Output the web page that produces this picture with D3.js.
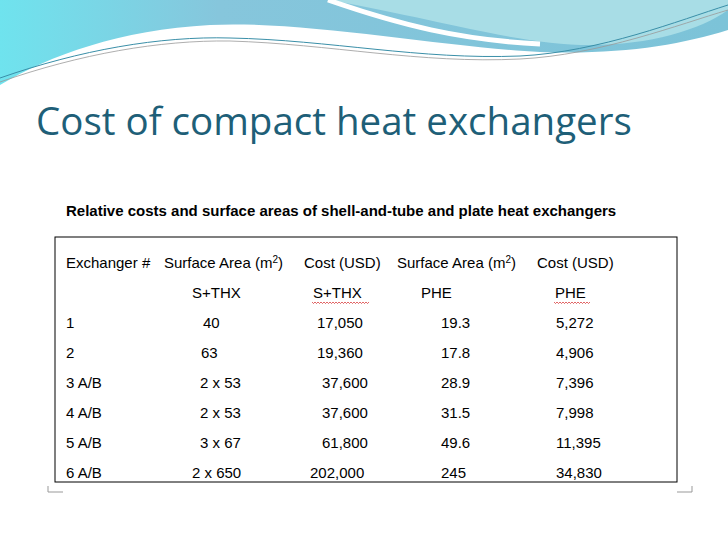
<!DOCTYPE html><html><head><meta charset="utf-8"><script src="https://cdn.jsdelivr.net/npm/d3@7"></script>
<style>body{margin:0;background:#fff}</style></head><body><svg id="s" width="728" height="546"></svg>
<script>
const headers=["Exchanger #","Surface Area (m²)","Cost (USD)","Surface Area (m²)","Cost (USD)"];
const subHeaders=["","S+THX","S+THX","PHE","PHE"];
const exchangers=["1","2","3 A/B","4 A/B","5 A/B","6 A/B"];
const areaSTHX=["40","63","2 x 53","2 x 53","3 x 67","2 x 650"];
const costSTHX=["17,050","19,360","37,600","37,600","61,800","202,000"];
const areaPHE=["19.3","17.8","28.9","31.5","49.6","245"];
const costPHE=["5,272","4,906","7,396","7,998","11,395","34,830"];
const svg=d3.select("#s");
const defs=svg.append("defs");
const g1=defs.append("linearGradient").attr("id","g1").attr("x1","0").attr("x2","1");
g1.append("stop").attr("offset","0").attr("stop-color","#6fe3ee");
g1.append("stop").attr("offset","0.3").attr("stop-color","#86c6dc");
g1.append("stop").attr("offset","1").attr("stop-color","#7cc3d8");
svg.append("path").attr("d","M0,0 L728,0 L728,30 C680,45 620,55 540,52 C450,48 300,20 210,25 C120,30 50,55 0,85 Z").attr("fill","url(#g1)");
svg.append("path").attr("d","M330,0 L728,0 L728,10 C700,30 650,45 590,45 C520,45 440,20 330,0 Z").attr("fill","#a8dde6");
svg.append("path").attr("d","M328,0 C400,25 460,40 540,44").attr("fill","none").attr("stroke","#fff").attr("stroke-width",5);
svg.append("path").attr("d","M0,78 C80,50 160,36 230,38 C330,40 420,60 520,56 C600,52 680,20 728,5").attr("fill","none").attr("stroke","#3a8fa8").attr("stroke-width",1);
svg.append("path").attr("d","M0,82 C80,54 160,40 230,41 C330,44 420,64 520,59 C600,55 680,24 728,10").attr("fill","none").attr("stroke","#999").attr("stroke-width",0.8);
svg.append("text").attr("x",36).attr("y",135).attr("font-family","Open Sans, sans-serif").attr("font-size",38.5).attr("fill","#1e5f78").text("Cost of compact heat exchangers");
svg.append("text").attr("x",66).attr("y",216).attr("font-family","Liberation Sans, Arial").attr("font-weight","bold").attr("font-size",15).attr("fill","#000").text("Relative costs and surface areas of shell-and-tube and plate heat exchangers");
svg.append("rect").attr("x",55).attr("y",237).attr("width",622).attr("height",245).attr("fill","none").attr("stroke","#000");
svg.append("path").attr("d","M48,492 h15 M48,492 v-6 M677,492 h15 M692,492 v-6").attr("stroke","#999").attr("fill","none");
const hx=[66,164,304,397,537];
const colX=[[66,66,66,66,66,66],[203,201,200,200,200,192],[317,317,322,322,322,310],[441,441,441,441,441,441],[556,556,556,556,556,556]];
const font="Liberation Sans Narrow, Liberation Sans, Arial";
const tb=svg.append("g").attr("font-family",font).attr("font-size",15).attr("fill","#000");
const ht=tb.selectAll(".h").data(headers).join("text").attr("x",(d,i)=>hx[i]).attr("y",268);
ht.each(function(d){const t=d3.select(this);if(d.includes("m²")){t.text(d.split("m²")[0]+"m");t.append("tspan").attr("dy",-5).attr("font-size",10).text("2");t.append("tspan").attr("dy",5).text(")");}else t.text(d);});
tb.selectAll(".sh").data(subHeaders).join("text").attr("x",(d,i)=>[0,192,313,421,555][i]).attr("y",298).text(d=>d);
const rowsY=d3.scaleBand().domain(exchangers).range([313,493]);
const cols=[exchangers,areaSTHX,costSTHX,areaPHE,costPHE];
cols.forEach((col,ci)=>{tb.selectAll(".c"+ci).data(col).join("text").attr("x",(d,i)=>colX[ci][i]).attr("y",(d,i)=>rowsY(exchangers[i])+15).text(d=>d);});
[[312,368],[554,589]].forEach(([a,b])=>{let p="M"+a+",302";for(let x=a;x<b;x+=3)p+=" l1.5,1.5 l1.5,-1.5";svg.append("path").attr("d",p).attr("stroke","#c00").attr("fill","none").attr("stroke-width",0.6);});
</script></body></html>
